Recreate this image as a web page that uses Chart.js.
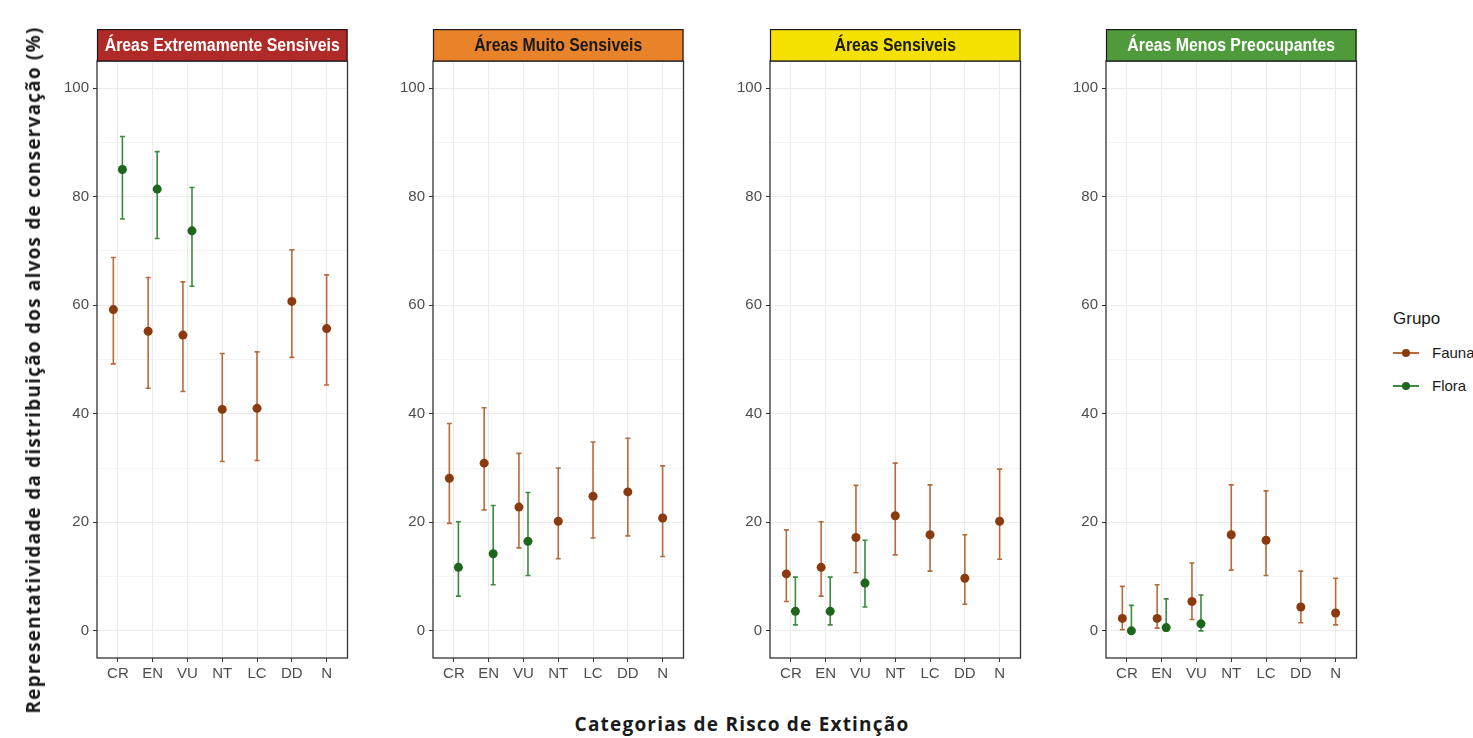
<!DOCTYPE html>
<html><head><meta charset="utf-8">
<script src="https://cdn.jsdelivr.net/npm/chart.js@4.4.1/dist/chart.umd.min.js"></script>
<style>
html,body{margin:0;padding:0;background:#fff;width:1473px;height:738px;overflow:hidden;position:relative;font-family:'Liberation Sans',Arial,sans-serif}
canvas.pc{position:absolute;top:29px}
#ytitle{position:absolute;left:33px;top:370px;transform:translate(-50%,-50%) rotate(-90deg);white-space:nowrap;font:700 19px 'Open Sans';letter-spacing:1.2px;color:#1a1a1a}
#xtitle{position:absolute;left:742px;top:724px;transform:translate(-50%,-50%);white-space:nowrap;font:700 19px 'Open Sans';letter-spacing:1.2px;color:#1a1a1a}
#legend{position:absolute;left:1393px;top:0;width:80px;height:738px}
.lt{position:absolute;left:0;top:309px;font:17px 'Liberation Sans',Arial,sans-serif;color:#1a1a1a}
.le{position:absolute;left:0;width:80px;height:20px}
.ll{position:absolute;left:0;top:9px;width:26px;height:2px}
.ld{position:absolute;left:9px;top:6px;width:8px;height:8px;border-radius:50%}
.lx{position:absolute;left:39px;top:1px;font:15px 'Liberation Sans',Arial,sans-serif;color:#1a1a1a;white-space:nowrap}
</style></head>
<body>
<canvas id="c0" class="pc" width="315" height="661" style="left:37px"></canvas>
<canvas id="c1" class="pc" width="315" height="661" style="left:373px"></canvas>
<canvas id="c2" class="pc" width="315" height="661" style="left:710px"></canvas>
<canvas id="c3" class="pc" width="315" height="661" style="left:1046px"></canvas>
<div id="ytitle">Representatividade da distribuição dos alvos de conservação (%)</div>
<div id="xtitle">Categorias de Risco de Extinção</div>
<div id="legend">
  <div class="lt">Grupo</div>
  <div class="le" style="top:343px"><div class="ll" style="background:#b86a3a"></div><div class="ld" style="background:#8b3a0e"></div><div class="lx">Fauna</div></div>
  <div class="le" style="top:376px"><div class="ll" style="background:#3d8b3d"></div><div class="ld" style="background:#1d661d"></div><div class="lx">Flora</div></div>
</div>
<script>
// ---- data ----
const categories = ['CR','EN','VU','NT','LC','DD','N'];
const yMajorTicks = [0,20,40,60,80,100];
const yMinorTicks = [10,30,50,70,90];
const panelTitles = ['Áreas Extremamente Sensiveis','Áreas Muito Sensiveis','Áreas Sensiveis','Áreas Menos Preocupantes'];
const groupNames = ['Fauna','Flora'];

const faunaMean1 = [59.2,55.2,54.5,40.8,41.0,60.7,55.7];
const faunaLow1  = [49.2,44.7,44.1,31.2,31.4,50.4,45.3];
const faunaHigh1 = [68.8,65.1,64.3,51.1,51.4,70.2,65.6];
const floraMean1 = [85.0,81.4,73.7,null,null,null,null];
const floraLow1  = [75.9,72.3,63.5,null,null,null,null];
const floraHigh1 = [91.1,88.3,81.7,null,null,null,null];

const faunaMean2 = [28.1,30.9,22.8,20.2,24.8,25.6,20.8];
const faunaLow2  = [19.8,22.3,15.3,13.3,17.1,17.5,13.7];
const faunaHigh2 = [38.2,41.1,32.7,30.0,34.8,35.5,30.4];
const floraMean2 = [11.7,14.2,16.5,null,null,null,null];
const floraLow2  = [6.4,8.5,10.2,null,null,null,null];
const floraHigh2 = [20.1,23.1,25.5,null,null,null,null];

const faunaMean3 = [10.5,11.7,17.2,21.2,17.7,9.7,20.2];
const faunaLow3  = [5.4,6.4,10.7,14.0,11.0,4.9,13.2];
const faunaHigh3 = [18.6,20.1,26.8,30.9,26.9,17.7,29.8];
const floraMean3 = [3.6,3.6,8.8,null,null,null,null];
const floraLow3  = [1.1,1.1,4.4,null,null,null,null];
const floraHigh3 = [9.9,9.9,16.7,null,null,null,null];

const faunaMean4 = [2.3,2.3,5.4,17.7,16.7,4.4,3.3];
const faunaLow4  = [0.2,0.5,2.1,11.2,10.2,1.5,1.1];
const faunaHigh4 = [8.2,8.5,12.5,26.9,25.8,11.0,9.7];
const floraMean4 = [0.0,0.6,1.3,null,null,null,null];
const floraLow4  = [0.0,0.0,0.0,null,null,null,null];
const floraHigh4 = [4.7,5.9,6.6,null,null,null,null];

// ---- styles ----
const stripFills = ['#b02a28','#e8832a','#f5e100','#4f9a3b'];
const stripText  = ['#ffffff','#1a1a1a','#1a1a1a','#ffffff'];
const faunaPoint = '#8b3a0e', faunaBar = '#b86a3a';
const floraPoint = '#1d661d', floraBar = '#3d8b3d';
const DODGE = 0.13;

const facetPlugin = {
  id:'facet',
  beforeDatasetsDraw(chart){
    const {ctx, scales:{x,y}} = chart;
    chart.data.datasets.forEach(ds=>{
      ctx.save();
      ctx.strokeStyle = ds.barColor; ctx.lineWidth = 1.6;
      ds.data.forEach(p=>{
        const px = x.getPixelForValue(p.x), y1 = y.getPixelForValue(p.lo), y2 = y.getPixelForValue(p.hi);
        ctx.beginPath();
        ctx.moveTo(px,y1); ctx.lineTo(px,y2);
        ctx.moveTo(px-2.5,y1); ctx.lineTo(px+2.5,y1);
        ctx.moveTo(px-2.5,y2); ctx.lineTo(px+2.5,y2);
        ctx.stroke();
      });
      ctx.restore();
    });
  },
  afterDraw(chart, args, opts){
    const {ctx, chartArea:a} = chart;
    ctx.save();
    ctx.strokeStyle = '#333333'; ctx.lineWidth = 1.3;
    ctx.strokeRect(a.left, a.top, a.right-a.left, a.bottom-a.top);
    // strip
    const sh = 32;
    ctx.fillStyle = opts.fill;
    ctx.fillRect(a.left, a.top-sh, a.right-a.left, sh);
    ctx.strokeStyle = '#1a1a1a'; ctx.lineWidth = 1.2;
    ctx.strokeRect(a.left+0.5, a.top-sh+0.6, a.right-a.left-1, sh-0.6);
    ctx.fillStyle = opts.color;
    ctx.font = "bold 18px 'Liberation Sans', Arial, sans-serif";
    ctx.textAlign = 'center'; ctx.textBaseline = 'middle';
    const cx = (a.left+a.right)/2, cy = a.top - sh/2 + 1;
    ctx.translate(cx, cy); ctx.scale(0.88, 1);
    ctx.fillText(opts.title, 0, 0);
    ctx.restore();
  }
};

function buildPoints(mean, lo, hi, other, sign){
  const pts = [];
  mean.forEach((m,i)=>{
    if (m === null) return;
    const off = other[i] !== null ? sign*DODGE : 0;
    pts.push({x:i+1+off, y:m, lo:lo[i], hi:hi[i]});
  });
  return pts;
}

function makePanel(k, fm, fl, fh, gm, gl, gh){
  new Chart(document.getElementById('c'+k), {
    type:'scatter',
    data:{datasets:[
      {label:groupNames[0], data:buildPoints(fm,fl,fh,gm,-1), barColor:faunaBar,
       backgroundColor:faunaPoint, borderColor:faunaPoint, pointRadius:4.5, pointHoverRadius:4.5, borderWidth:0},
      {label:groupNames[1], data:buildPoints(gm,gl,gh,fm,1), barColor:floraBar,
       backgroundColor:floraPoint, borderColor:floraPoint, pointRadius:4.5, pointHoverRadius:4.5, borderWidth:0}
    ]},
    options:{
      responsive:false, animation:false, devicePixelRatio:1,
      layout:{padding:{top:32,left:0,right:0,bottom:0}},
      plugins:{legend:{display:false}, tooltip:{enabled:false},
        facet:{title:panelTitles[k], fill:stripFills[k], color:stripText[k]}},
      scales:{
        x:{type:'linear', min:0.4, max:7.6,
          afterBuildTicks:s=>{s.ticks = categories.map((c,i)=>({value:i+1}));},
          afterFit:s=>{s.height = 32;},
          ticks:{callback:v=>categories[v-1], color:'#4d4d4d', font:{size:15, family:"'Liberation Sans', Arial, sans-serif"}, padding:3, autoSkip:false, maxRotation:0},
          grid:{color:'#ebebeb', lineWidth:1, tickLength:4, tickColor:'#333333'},
          border:{display:false}
        },
        y:{type:'linear', min:-5, max:105,
          afterBuildTicks:s=>{s.ticks = yMajorTicks.concat(yMinorTicks).sort((a,b)=>a-b).map(v=>({value:v}));},
          afterFit:s=>{s.width = 60;},
          ticks:{callback:v=>yMajorTicks.includes(v)?String(v):'', color:'#4d4d4d', font:{size:15, family:"'Liberation Sans', Arial, sans-serif"}, padding:4, autoSkip:false},
          grid:{color:'#ebebeb', lineWidth:c=>yMajorTicks.includes(c.tick.value)?1:0.6, tickLength:4,
                tickColor:c=>yMajorTicks.includes(c.tick.value)?'#333333':'rgba(0,0,0,0)'},
          border:{display:false}
        }
      }
    },
    plugins:[facetPlugin]
  });
}

makePanel(0, faunaMean1, faunaLow1, faunaHigh1, floraMean1, floraLow1, floraHigh1);
makePanel(1, faunaMean2, faunaLow2, faunaHigh2, floraMean2, floraLow2, floraHigh2);
makePanel(2, faunaMean3, faunaLow3, faunaHigh3, floraMean3, floraLow3, floraHigh3);
makePanel(3, faunaMean4, faunaLow4, faunaHigh4, floraMean4, floraLow4, floraHigh4);
</script>
</body></html>
